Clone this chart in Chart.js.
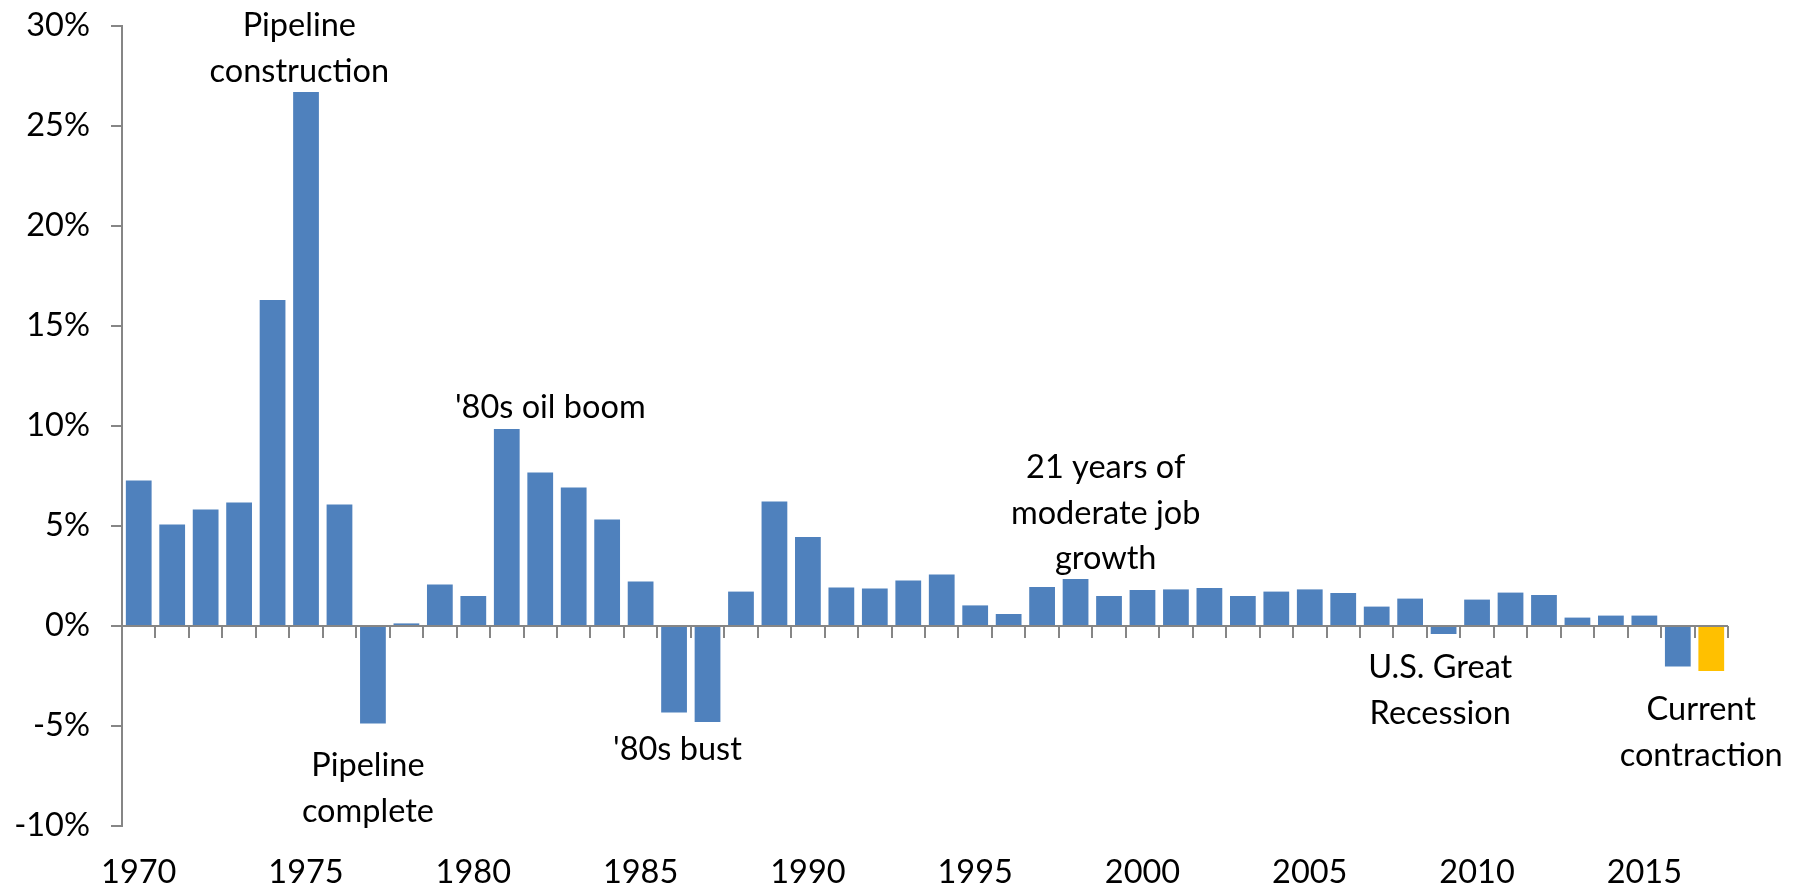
<!DOCTYPE html>
<html>
<head>
<meta charset="utf-8">
<script src="https://cdn.jsdelivr.net/npm/chart.js"></script>
<style>
  body { margin: 0; background: #fff; }
  #wrap { width: 1793px; height: 890px; }
</style>
</head>
<body>
<div id="wrap"><canvas id="myChart" width="1793" height="890"></canvas></div>
<script>
// annual job growth, 1970 - 2017
const years = [];
for (let y = 1970; y <= 2017; y++) years.push(String(y));

const growth = [
  7.27, 5.07, 5.83, 6.18, 16.3, 26.7, 6.07, -4.88, 0.13, 2.08,
  1.5, 9.85, 7.68, 6.93, 5.33, 2.22, -4.33, -4.8, 1.72, 6.22,
  4.45, 1.93, 1.87, 2.27, 2.58, 1.03, 0.6, 1.95, 2.35, 1.5,
  1.8, 1.83, 1.9, 1.5, 1.72, 1.83, 1.65, 0.97, 1.37, -0.4,
  1.32, 1.67, 1.55, 0.42, 0.52, 0.52, -2.02, -2.25
];

const highlightYear = '2017';
const yTicks = [-10, -5, 0, 5, 10, 15, 20, 25, 30];

const noteTexts = [
  ['Pipeline', 'construction'],
  ["'80s oil boom"],
  ['Pipeline', 'complete'],
  ["'80s bust"],
  ['21 years of', 'moderate job', 'growth'],
  ['U.S. Great', 'Recession'],
  ['Current', 'contraction']
];
// where each note sits: category index and value of first line
const notePlaces = [
  [4.8, 30.0], [12.3, 10.9], [6.85, -7.0], [16.1, -6.2],
  [28.9, 7.9], [38.9, -2.1], [46.7, -4.2]
];

const FONT = 'Lato';
const FSIZE = 32.5;
const GREY = '#868686';

const axisMarks = {
  id: 'axisMarks',
  afterDatasetsDraw(chart) {
    const x = chart.scales.x, y = chart.scales.y, ctx = chart.ctx;
    const y0 = y.getPixelForValue(0);
    const step = x.getPixelForValue(1) - x.getPixelForValue(0);
    ctx.save();
    ctx.strokeStyle = GREY;
    ctx.lineWidth = 2;
    ctx.beginPath();
    ctx.moveTo(x.left, y0);
    ctx.lineTo(x.right, y0);
    for (let i = 0; i <= years.length; i++) {
      const px = Math.round(x.getPixelForValue(0) - step / 2 + step * i);
      ctx.moveTo(px, y0);
      ctx.lineTo(px, y0 + 12);
    }
    ctx.stroke();
    ctx.restore();
  }
};

const notes = {
  id: 'notes',
  afterDraw(chart) {
    const x = chart.scales.x, y = chart.scales.y, ctx = chart.ctx;
    const x0 = x.getPixelForValue(0);
    const step = x.getPixelForValue(1) - x0;
    const lineStep = 2.27;
    ctx.save();
    ctx.font = FSIZE + 'px ' + FONT;
    ctx.fillStyle = '#000';
    ctx.textAlign = 'center';
    ctx.textBaseline = 'middle';
    noteTexts.forEach((lines, n) => {
      const px = x0 + step * notePlaces[n][0];
      lines.forEach((t, k) => {
        ctx.fillText(t, px, y.getPixelForValue(notePlaces[n][1] - k * lineStep));
      });
    });
    ctx.restore();
  }
};

const ctx = document.getElementById('myChart').getContext('2d');
new Chart(ctx, {
  type: 'bar',
  data: {
    labels: years,
    datasets: [{
      data: growth,
      backgroundColor: years.map(y => y === highlightYear ? '#FFC000' : '#4F81BD'),
      borderWidth: 0,
      categoryPercentage: 1,
      barPercentage: 0.77
    }]
  },
  options: {
    responsive: false,
    animation: false,
    layout: { padding: { top: 26, right: 65, left: 0, bottom: 0 } },
    plugins: { legend: { display: false }, tooltip: { enabled: false } },
    scales: {
      x: {
        offset: true,
        grid: { display: false, drawTicks: false },
        border: { display: false },
        ticks: {
          autoSkip: false,
          maxRotation: 0,
          padding: 27,
          color: '#000',
          font: { family: FONT, size: FSIZE },
          callback: function (v, i) { return Number(years[i]) % 5 === 0 ? years[i] : ''; }
        },
        afterFit(scale) { scale.height = 64; }
      },
      y: {
        min: -10,
        max: 30,
        afterBuildTicks(scale) { scale.ticks = yTicks.map(v => ({ value: v })); },
        grid: { drawOnChartArea: false, tickLength: 11, tickColor: GREY, color: GREY, lineWidth: 2 },
        border: { color: GREY, width: 2 },
        ticks: {
          padding: 21,
          color: '#000',
          font: { family: FONT, size: FSIZE },
          callback: v => v + '%'
        },
        afterFit(scale) {
          scale.width = 122;
          scale.paddingTop = 0;
          scale.paddingBottom = 0;
        }
      }
    }
  },
  plugins: [axisMarks, notes]
});
</script>
</body>
</html>
